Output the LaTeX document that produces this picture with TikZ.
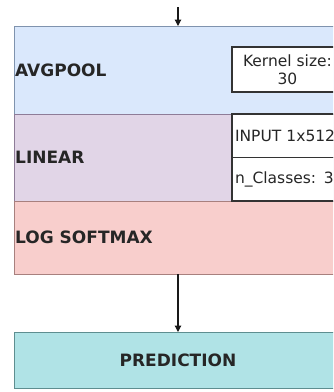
\documentclass[tikz,border=0pt]{standalone}
\usepackage{fontspec}
\setmainfont{DejaVu Sans}
\usepackage{xcolor}
\usetikzlibrary{arrows.meta}
\usetikzlibrary{positioning}
\definecolor{poolfill}{HTML}{DAE8FC}
\definecolor{poolline}{HTML}{7F93AE}
\definecolor{linfill}{HTML}{E1D5E7}
\definecolor{linline}{HTML}{8E7C98}
\definecolor{smfill}{HTML}{F8CECC}
\definecolor{smline}{HTML}{A8807E}
\definecolor{predfill}{HTML}{B0E3E6}
\definecolor{predline}{HTML}{5E8E90}

\begin{document}
\begin{tikzpicture}[x=1pt,y=-1pt]
\tikzset{layer/.style={rectangle,draw,line width=0.9pt,minimum width=328pt,inner sep=0pt,outer sep=0pt},
layertext/.style={font=\fontsize{17}{20}\selectfont\bfseries,text=black!85,inner sep=1pt},
param/.style={rectangle,draw=black!80,fill=white,line width=1.2pt,minimum width=111pt,inner sep=0pt,outer sep=0pt,font=\fontsize{15.5}{18}\selectfont,text=black!85},
paramleft/.style={param,inner xsep=3pt,text width=105pt,align=left},
flow/.style={line width=1.2pt,black!90,-{Triangle[length=6.5pt,width=6.5pt]}}}
\useasboundingbox (0,0) rectangle (333,392);
\clip (0,0) rectangle (333,392);
\node[layer,fill=poolfill,draw=poolline,minimum height=88pt,anchor=north west](avg) at (14,26){};
\node[layer,fill=linfill,draw=linline,minimum height=87pt,below=0pt of avg](lin){};
\node[layer,fill=smfill,draw=smline,minimum height=73pt,below=0pt of lin](lsm){};
\node[layer,fill=predfill,draw=predline,minimum height=56pt,below=58pt of lsm,font=\fontsize{17}{20}\selectfont\bfseries,text=black!85](pred){PREDICTION};
\node[layertext,anchor=west](avgtext) at (avg.west){AVGPOOL};
\node[layertext,anchor=west](lintext) at (lin.west){LINEAR};
\node[layertext,anchor=west](lsmtext) at (lsm.west){LOG SOFTMAX};
\node[param,minimum height=45pt,anchor=north west,align=center](kernel) at (232,47){Kernel size:\\30};
\node[paramleft,minimum height=43.5pt,anchor=north west](inbox) at (lin.north -| kernel.west){INPUT 1x512};
\node[paramleft,minimum height=43.5pt,below=0pt of inbox](classbox){n\_Classes: 3};
\coordinate (feed) at (178,7);
\draw[flow](feed) -- (avg.north);
\draw[flow](lsm.south) -- (pred.north);
\end{tikzpicture}
\end{document}
